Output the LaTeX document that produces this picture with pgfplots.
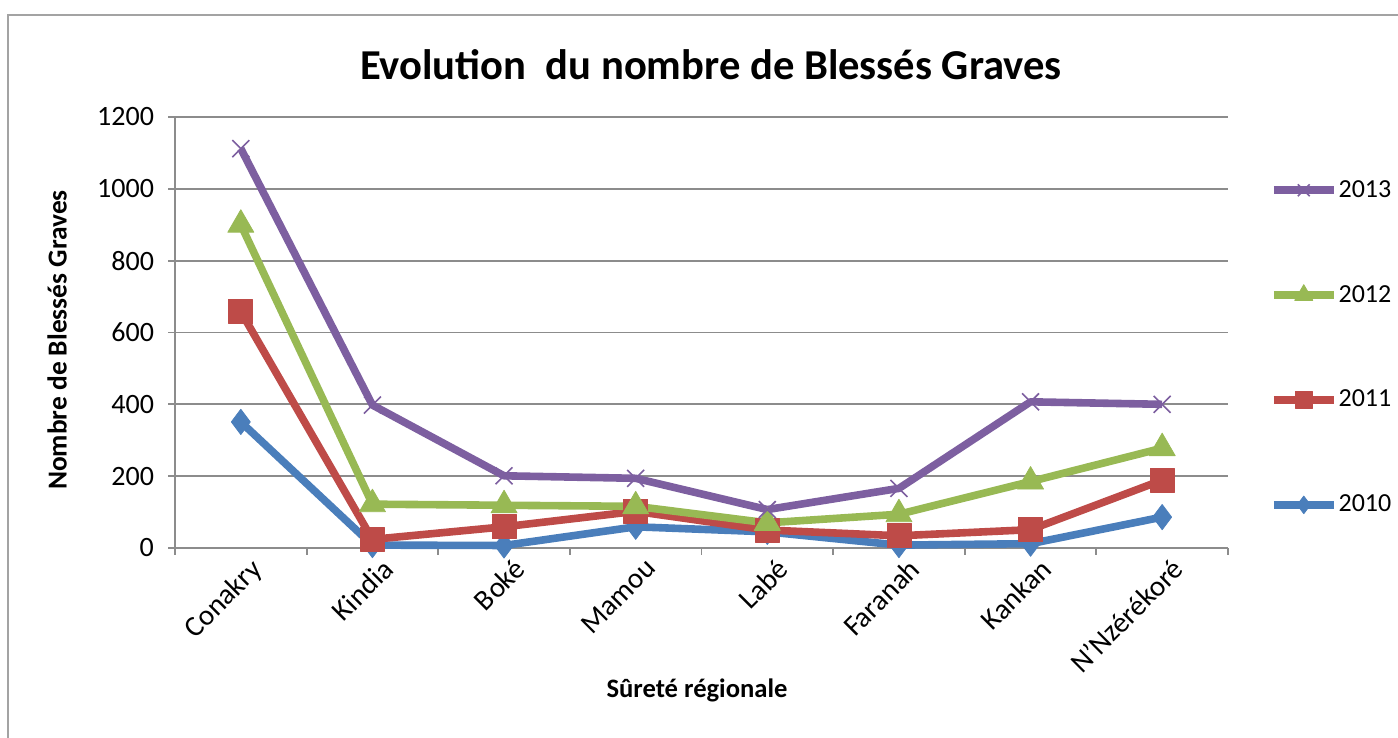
\documentclass[border=0pt]{standalone}
\usepackage{pgfplots}
\pgfplotsset{compat=1.18}
\usepackage{fontspec}
\setmainfont{Carlito}
\definecolor{c10}{HTML}{4A7EBB}
\definecolor{c11}{HTML}{BE4B48}
\definecolor{c12}{HTML}{98B954}
\definecolor{c13}{HTML}{7D5FA0}
\definecolor{gridc}{HTML}{8C8C8C}
\begin{document}
\begin{tikzpicture}[x=0.5pt,y=0.5pt]
\useasboundingbox (0,0) rectangle (1398,738);
\draw[gridc!80, line width=0.8pt] (8,-10) -- (8,723) -- (1410,723);
\begin{axis}[
  at={(87.5pt,95pt)}, anchor=south west,
  scale only axis, width=526.5pt, height=215.5pt,
  xmin=-0.5, xmax=7.5, ymin=0, ymax=1200,
  axis lines=left, axis line style={-, draw=gridc, line width=0.9pt},
  xtick={0,...,7},
  xticklabels={Conakry,Kindia,Boké,Mamou,Labé,Faranah,Kankan,N’Nzérékoré},
  ytick={0,200,...,1200},
  minor xtick={-0.5,0.5,...,7.5},
  minor ytick={0,200,...,1200},
  major tick length=0pt, minor tick length=3.5pt,
  tick align=outside,
  minor tick style={draw=gridc, line width=0.9pt},
  ymajorgrids, grid style={draw=gridc, line width=0.9pt},
  ticklabel style={font=\fontsize{14}{16}\selectfont},
  xticklabel style={rotate=45, anchor=north east, inner sep=2pt, yshift=-4pt, xshift=2pt, font=\fontsize{14.5}{16}\selectfont},
  yticklabel style={xshift=-7pt},
  /pgf/number format/assume math mode=true,
  /pgf/number format/1000 sep={},
  clip=false,
  line join=round,
  legend style={at={(1.0395,0.465)}, anchor=west, draw=none, fill=none,
    font=\fontsize{13}{15}\selectfont, row sep=41.5pt, inner sep=0pt,
    nodes={inner sep=0.5pt}},
  legend cell align=left,
  reverse legend,
  legend image code/.code={\draw[mark repeat=2,mark phase=2,#1, every mark/.append style={scale=0.7}] plot coordinates {(0pt,0pt) (15pt,0pt) (30pt,0pt)};},
]
\addplot[c10, line width=3.8pt, mark=diamond*, mark size=6.3pt, mark options={fill=c10, draw=c10, line width=0.4pt}]
 coordinates {(0,351) (1,8) (2,7) (3,59) (4,45) (5,8) (6,12) (7,86)};
\addlegendentry{2010}
\addplot[c11, line width=3.8pt, mark=square*, mark size=6pt, mark options={fill=c11, draw=c11, line width=0.4pt}]
 coordinates {(0,658) (1,24) (2,59) (3,102) (4,50) (5,34) (6,51) (7,189)};
\addlegendentry{2011}
\addplot[c12, line width=3.8pt, mark=triangle*, mark size=7.5pt, mark options={fill=c12, draw=c12, line width=0.4pt}]
 coordinates {(0,900) (1,122) (2,119) (3,116) (4,70) (5,94) (6,185) (7,278)};
\addlegendentry{2012}
\addplot[c13, line width=3.8pt, mark=x, mark size=6pt, mark options={draw=c13, line width=0.8pt}]
 coordinates {(0,1112) (1,398) (2,201) (3,194) (4,107) (5,166) (6,407) (7,400)};
\addlegendentry{2013}
\end{axis}
\node[font=\bfseries\fontsize{21.3}{25}\selectfont] at (711,673) {Evolution\ \ du nombre de Blessés Graves};
\node[font=\bfseries\fontsize{13.7}{16}\selectfont, rotate=90] at (57,398) {Nombre de Blessés Graves};
\node[font=\bfseries\fontsize{13.3}{16}\selectfont] at (697,48) {Sûreté régionale};
\end{tikzpicture}
\end{document}
